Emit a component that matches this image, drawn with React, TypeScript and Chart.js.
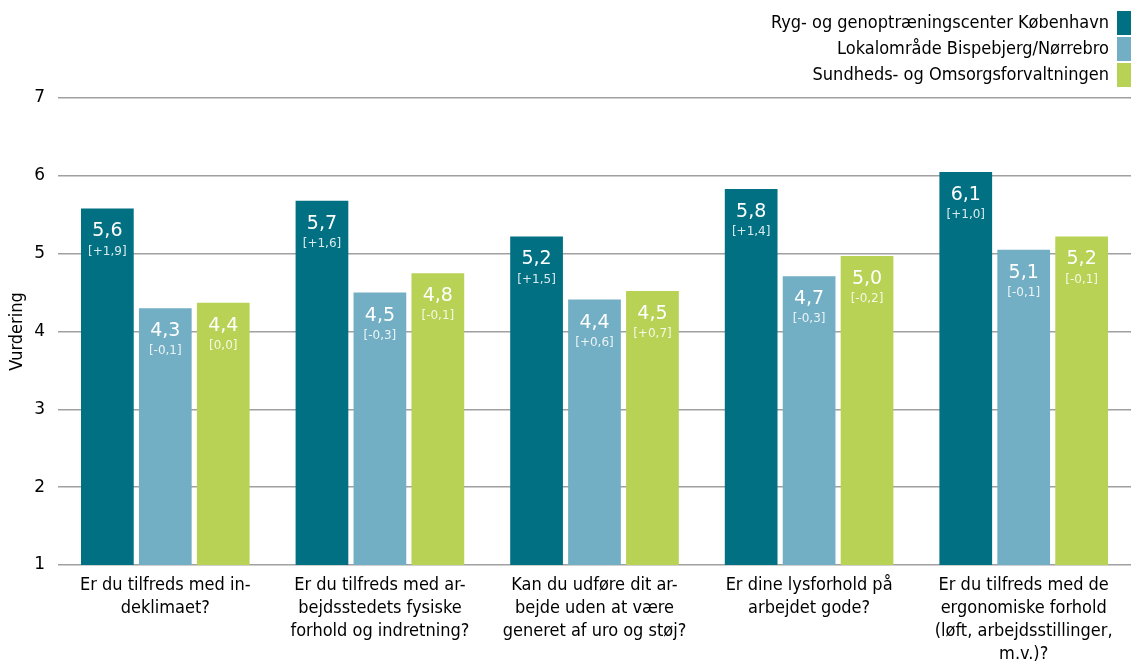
import React, { useEffect, useRef } from "react";
import { Chart, registerables } from "chart.js";

Chart.register(...registerables);

const categories: string[][] = [
  ["Er du tilfreds med in-", "deklimaet?"],
  ["Er du tilfreds med ar-", "bejdsstedets fysiske", "forhold og indretning?"],
  ["Kan du udføre dit ar-", "bejde uden at være", "generet af uro og støj?"],
  ["Er dine lysforhold på", "arbejdet gode?"],
  ["Er du tilfreds med de", "ergonomiske forhold", "(løft, arbejdsstillinger,", "m.v.)?"],
];

const seriesNames = [
  "Ryg- og genoptræningscenter København",
  "Lokalområde Bispebjerg/Nørrebro",
  "Sundheds- og Omsorgsforvaltningen",
];
const seriesColors = ["#007082", "#72afc4", "#b7d254"];

const ryg = [5.58, 5.68, 5.22, 5.83, 6.05];
const lokal = [4.3, 4.5, 4.41, 4.71, 5.05];
const sundhed = [4.37, 4.75, 4.52, 4.97, 5.22];

const rygLabels = ["5,6", "5,7", "5,2", "5,8", "6,1"];
const lokalLabels = ["4,3", "4,5", "4,4", "4,7", "5,1"];
const sundhedLabels = ["4,4", "4,8", "4,5", "5,0", "5,2"];

const rygDelta = ["[+1,9]", "[+1,6]", "[+1,5]", "[+1,4]", "[+1,0]"];
const lokalDelta = ["[-0,1]", "[-0,3]", "[+0,6]", "[-0,3]", "[-0,1]"];
const sundhedDelta = ["[0,0]", "[-0,1]", "[+0,7]", "[-0,2]", "[-0,1]"];

const yTicks = [1, 2, 3, 4, 5, 6, 7];

const COND = "'DejaVu Sans Condensed', 'DejaVu Sans', sans-serif";
const SANS = "'DejaVu Sans', sans-serif";

export default function App() {
  const ref = useRef<HTMLCanvasElement | null>(null);
  useEffect(() => {
    if (!ref.current) return;
    const valueLabels = [rygLabels, lokalLabels, sundhedLabels];
    const deltaLabels = [rygDelta, lokalDelta, sundhedDelta];

    const labelPlugin = {
      id: "barLabels",
      afterDatasetsDraw(chart: any) {
        const ctx = chart.ctx;
        ctx.save();
        ctx.textAlign = "center";
        ctx.textBaseline = "middle";
        chart.data.datasets.forEach((_: any, di: number) => {
          const meta = chart.getDatasetMeta(di);
          meta.data.forEach((bar: any, i: number) => {
            ctx.fillStyle = "#ffffff";
            ctx.font = `19px ${SANS}`;
            ctx.fillText(valueLabels[di][i], bar.x, bar.y + 23);
            ctx.fillStyle = "rgba(255,255,255,0.85)";
            ctx.font = `12px ${SANS}`;
            ctx.fillText(deltaLabels[di][i], bar.x, bar.y + 43);
          });
        });
        ctx.restore();
      },
    };

    const legendPlugin = {
      id: "customLegend",
      afterDraw(chart: any) {
        const ctx = chart.ctx;
        ctx.save();
        ctx.font = `18px ${COND}`;
        ctx.textAlign = "right";
        ctx.textBaseline = "middle";
        seriesNames.forEach((name, i) => {
          const cy = 23 + i * 26;
          ctx.fillStyle = seriesColors[i];
          ctx.fillRect(1117, cy - 12, 16, 24);
          ctx.fillStyle = "#000";
          ctx.fillText(name, 1109, cy);
        });
        ctx.restore();
      },
    };

    const chart = new Chart(ref.current, {
      type: "bar",
      data: {
        labels: categories,
        datasets: [
          { label: seriesNames[0], data: ryg, backgroundColor: seriesColors[0] },
          { label: seriesNames[1], data: lokal, backgroundColor: seriesColors[1] },
          { label: seriesNames[2], data: sundhed, backgroundColor: seriesColors[2] },
        ],
      },
      options: {
        animation: false,
        responsive: false,
        maintainAspectRatio: false,
        layout: { padding: { top: 98, right: 0, bottom: 0, left: 0 } },
        datasets: {
          bar: { categoryPercentage: 0.81, barPercentage: 0.91 },
        },
        plugins: {
          legend: { display: false },
          title: { display: false },
          tooltip: { enabled: false },
        },
        scales: {
          x: {
            grid: { display: false },
            border: { display: false },
            ticks: {
              color: "#000",
              font: { family: COND, size: 18, lineHeight: 1.28 },
              maxRotation: 0,
              autoSkip: false,
              padding: 1,
            },
            afterFit: (scale: any) => {
              scale.height = 97;
            },
          },
          y: {
            min: 1,
            max: 7,
            afterBuildTicks: (scale: any) => {
              scale.ticks = yTicks.map((v) => ({ value: v }));
            },
            grid: { color: "#a0a0a0", lineWidth: 1.5, drawTicks: false },
            border: { display: false },
            ticks: {
              color: "#000",
              font: { family: SANS, size: 17 },
              padding: 13,
            },
            title: {
              display: true,
              text: "Vurdering",
              color: "#000",
              font: { family: COND, size: 18 },
              padding: { top: 7, bottom: 0 },
            },
            afterFit: (scale: any) => {
              scale.width = 58;
            },
          },
        },
      },
      plugins: [labelPlugin, legendPlugin],
    });
    return () => chart.destroy();
  }, []);

  return (
    <div style={{ position: "fixed", left: 0, top: 0, width: 1131, height: 662, background: "#fff" }}>
      <canvas ref={ref} width={1131} height={662} style={{ width: 1131, height: 662 }} />
    </div>
  );
}
